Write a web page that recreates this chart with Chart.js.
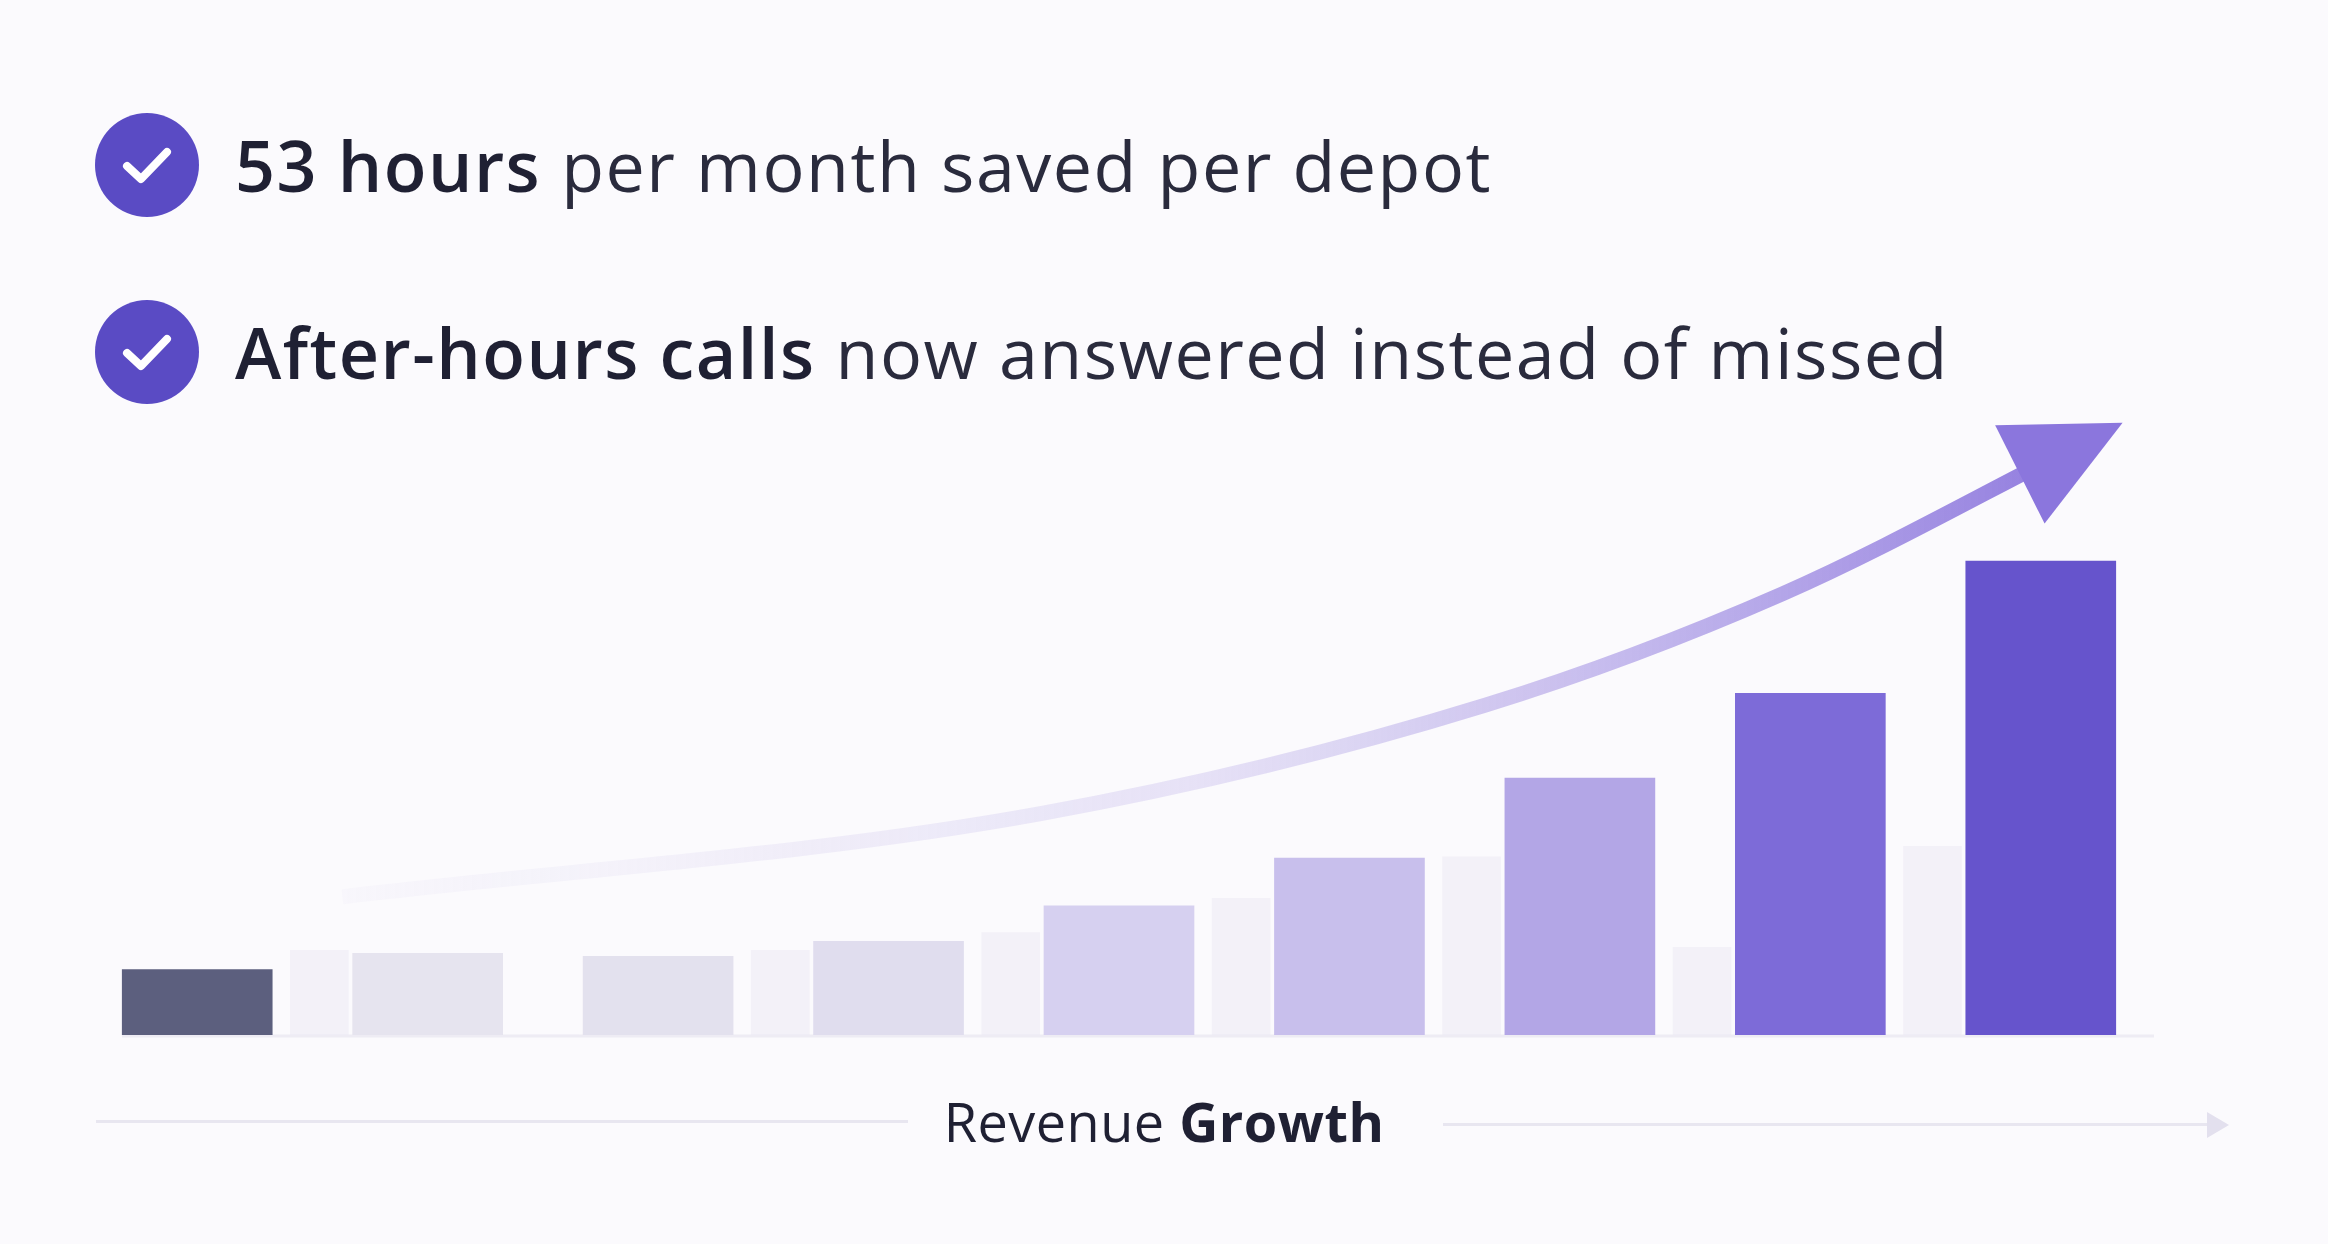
<!DOCTYPE html>
<html>
<head>
<meta charset="utf-8">
<script src="https://cdn.jsdelivr.net/npm/chart.js@4"></script>
<style>
  html, body { margin: 0; padding: 0; background: #fbfafd; width: 2328px; height: 1244px; overflow: hidden; font-family: "Open Sans", sans-serif; }
  #wrap { position: absolute; left: 0; top: 0; width: 2328px; height: 1244px; }
  .row { position: absolute; left: 95px; display: flex; align-items: center; color: #1f2033; font-size: 70px; letter-spacing: 1.5px; }
  .row b { font-weight: 600; margin-right: 20px; }
  .row span { font-weight: 400; color: #2a2b3d; }
  .icon { width: 104px; height: 104px; border-radius: 50%; background: #5a4bc4; margin-right: 36px; display: flex; align-items: center; justify-content: center; }
  #caption { position: absolute; top: 1084px; left: 0; width: 2328px; text-align: center; font-size: 54px; color: #1f2033; letter-spacing: 0.5px; }
  #caption b { font-weight: 700; }
  .hline { position: absolute; height: 3px; background: #e8e6f0; }
</style>
</head>
<body>
<div id="wrap"><canvas id="chart"></canvas></div>
<div class="row" style="top:113px"><div class="icon"><svg width="60" height="60" viewBox="0 0 60 60"><path d="M10 31 L24 44 L50 17" stroke="#fff" stroke-width="8" fill="none" stroke-linecap="round" stroke-linejoin="round"/></svg></div><b>53 hours</b><span>per month saved per depot</span></div>
<div class="row" style="top:300px"><div class="icon"><svg width="60" height="60" viewBox="0 0 60 60"><path d="M10 31 L24 44 L50 17" stroke="#fff" stroke-width="8" fill="none" stroke-linecap="round" stroke-linejoin="round"/></svg></div><b>After-hours calls</b><span>now answered instead of missed</span></div>
<div class="hline" style="left:96px; width:812px; top:1120px"></div>
<div class="hline" style="left:1443px; width:780px; top:1123px"></div>
<svg style="position:absolute; left:2205px; top:1110px" width="30" height="30"><path d="M2 2 L24 15 L2 28 Z" fill="#e3e0ee"/></svg>
<div id="caption">Revenue <b>Growth</b></div>
<script>
// bar heights
const mainValues = [44, 55, 53, 63, 87, 119, 173, 230, 319];
const mainColors = ["#5c5f7e", "#e6e4ef", "#e3e1ee", "#e0ddee", "#d6d0f0", "#c8bfec", "#b3a6e6", "#7d6bd8", "#6654cc"];
const ghostValues = [57, 0, 57, 69, 92, 120, 59, 127];
// growth arrow path
const arrowX = [0.63, 3.66, 5.59, 6.88, 8.2];
const arrowY = [93, 149, 222, 297, 400];

const baseline = {
  id: "baseline",
  beforeDatasetsDraw(chart) {
    const c = chart.ctx, a = chart.chartArea;
    c.save();
    c.strokeStyle = "#eeecf4";
    c.lineWidth = 3;
    c.beginPath();
    c.moveTo(a.left + 40, a.bottom + 1);
    c.lineTo(a.right - 2, a.bottom + 1);
    c.stroke();
    c.restore();
  }
};

const arrowHead = {
  id: "arrowHead",
  afterDatasetsDraw(chart) {
    const pts = chart.getDatasetMeta(2).data;
    const tip = pts[pts.length - 1], prev = pts[pts.length - 2];
    const ang = Math.atan2(tip.y - prev.y, tip.x - prev.x);
    const c = chart.ctx;
    c.save();
    c.translate(tip.x, tip.y);
    c.rotate(ang);
    c.fillStyle = "#8b76dd";
    c.beginPath();
    c.moveTo(40, 0);
    c.lineTo(-75, -55);
    c.lineTo(-75, 55);
    c.closePath();
    c.fill();
    c.restore();
  }
};

new Chart(document.getElementById("chart"), {
  data: {
    datasets: [
      {
        type: "bar",
        data: mainValues.map((v, i) => ({ x: i, y: v })),
        backgroundColor: mainColors,
        barThickness: 150,
        grouped: false,
        order: 2
      },
      {
        type: "bar",
        data: ghostValues.map((v, i) => ({ x: i + 0.53, y: v })),
        backgroundColor: "rgba(236,233,244,0.55)",
        barThickness: 58,
        grouped: false,
        order: 3
      },
      {
        type: "line",
        data: arrowX.map((x, i) => ({ x: x, y: arrowY[i] })),
        cubicInterpolationMode: "monotone",
        pointRadius: 0,
        fill: false,
        order: 1,
        borderWidth: 15,
        borderCapStyle: "butt",
        borderColor: ctx => {
          const a = ctx.chart.chartArea;
          if (!a) return "#8a74dc";
          const g = ctx.chart.ctx.createLinearGradient(a.left + 250, 0, a.right - 100, 0);
          g.addColorStop(0, "rgba(225,220,242,0.1)");
          g.addColorStop(0.5, "rgba(205,196,238,0.45)");
          g.addColorStop(1, "rgba(140,118,221,0.95)");
          return g;
        }
      }
    ]
  },
  options: {
    responsive: true,
    maintainAspectRatio: false,
    animation: false,
    layout: { padding: { left: 82, right: 172, top: 411, bottom: 209 } },
    plugins: { legend: { display: false }, tooltip: { enabled: false } },
    scales: {
      x: { type: "linear", min: -0.5, max: 8.5, offset: false, display: false },
      y: { min: 0, max: 420, display: false }
    }
  },
  plugins: [baseline, arrowHead]
});
</script>
</body>
</html>
